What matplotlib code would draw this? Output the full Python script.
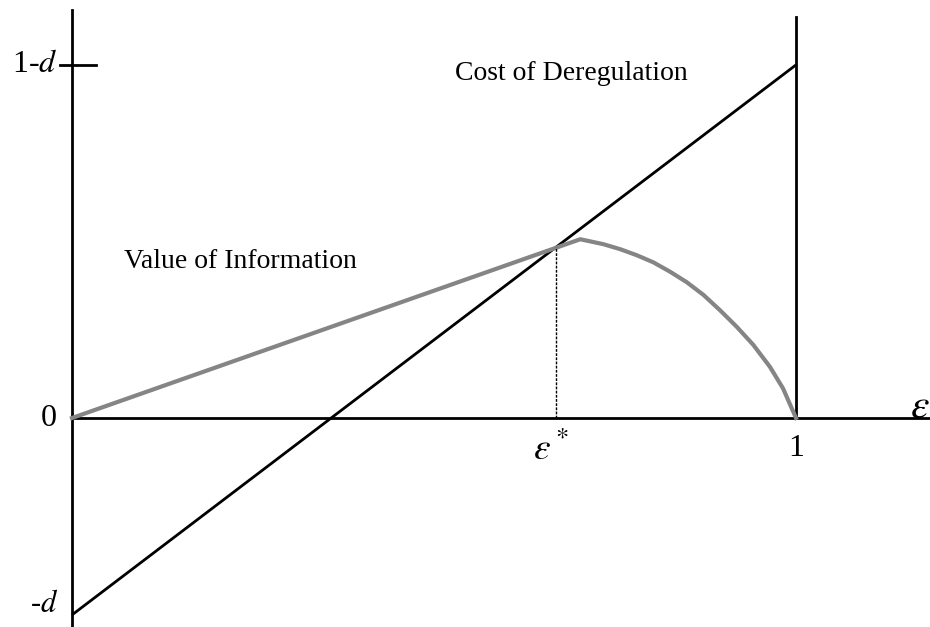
import matplotlib.pyplot as plt

plt.rcParams['font.family'] = ['Liberation Serif', 'DejaVu Serif']
plt.rcParams['mathtext.fontset'] = 'stix'

# model values
d = 0.358
eps_star = 0.668

# cost of deregulation line: eps - d, drawn from eps=0 to eps=1
cost_eps = [0.0, 1.0]
cost_val = [-d, 1 - d]

# value of information curve (grey)
info_eps = [0.0, 0.702, 0.734, 0.757, 0.780, 0.803, 0.826, 0.849, 0.872,
            0.895, 0.918, 0.941, 0.964, 0.982, 1.0]
info_val = [0.0, 0.325, 0.316, 0.307, 0.296, 0.283, 0.266, 0.247, 0.224,
            0.196, 0.166, 0.133, 0.093, 0.054, 0.0]

fig = plt.figure(figsize=(9.3, 6.27), dpi=100)
ax = fig.add_axes([0, 0, 1, 1])
ax.set_xlim(-72 / 724, 858 / 724)
ax.set_ylim(-209 / 550, 418 / 550)
ax.axis('off')

# axes
ax.plot([0, 0], [-209 / 550, 408 / 550], color='black', lw=2)
ax.plot([0, 858 / 724], [0, 0], color='black', lw=2)
ax.plot([-12 / 724, 24 / 724], [1 - d, 1 - d], color='black', lw=2)
ax.plot([1, 1], [0, 401 / 550], color='black', lw=2)

ax.plot(cost_eps, cost_val, color='black', lw=2, solid_capstyle='butt')
ax.plot(info_eps, info_val, color='#858585', lw=3, solid_joinstyle='round')
ax.plot([eps_star, eps_star], [0, eps_star - d], color='black', lw=1,
        linestyle=(0, (2, 1)))

# labels
ax.text(-14 / 724, 1 - d, '1-$d$', fontsize=23, ha='right', va='center')
ax.text(-23 / 724, 0, '0', fontsize=23, ha='center', va='center')
ax.text(-14 / 724, -d + 10 / 550, '-$d$', fontsize=22, ha='right',
        va='center')
ax.text(1, -30 / 550, '1', fontsize=23, ha='center', va='center')
ax.text(eps_star - 0.006, -32 / 550, r'$\varepsilon^*$', fontsize=27,
        ha='center', va='center')
ax.text(848 / 724, 10 / 550, r'$\varepsilon$', fontsize=30, ha='center',
        va='center')
ax.text(499 / 724, 345 / 550, 'Cost of Deregulation', fontsize=20,
        ha='center', va='center')
ax.text(168 / 724, 156 / 550, 'Value of Information', fontsize=20,
        ha='center', va='center')

fig.savefig('out.png', dpi=100)
